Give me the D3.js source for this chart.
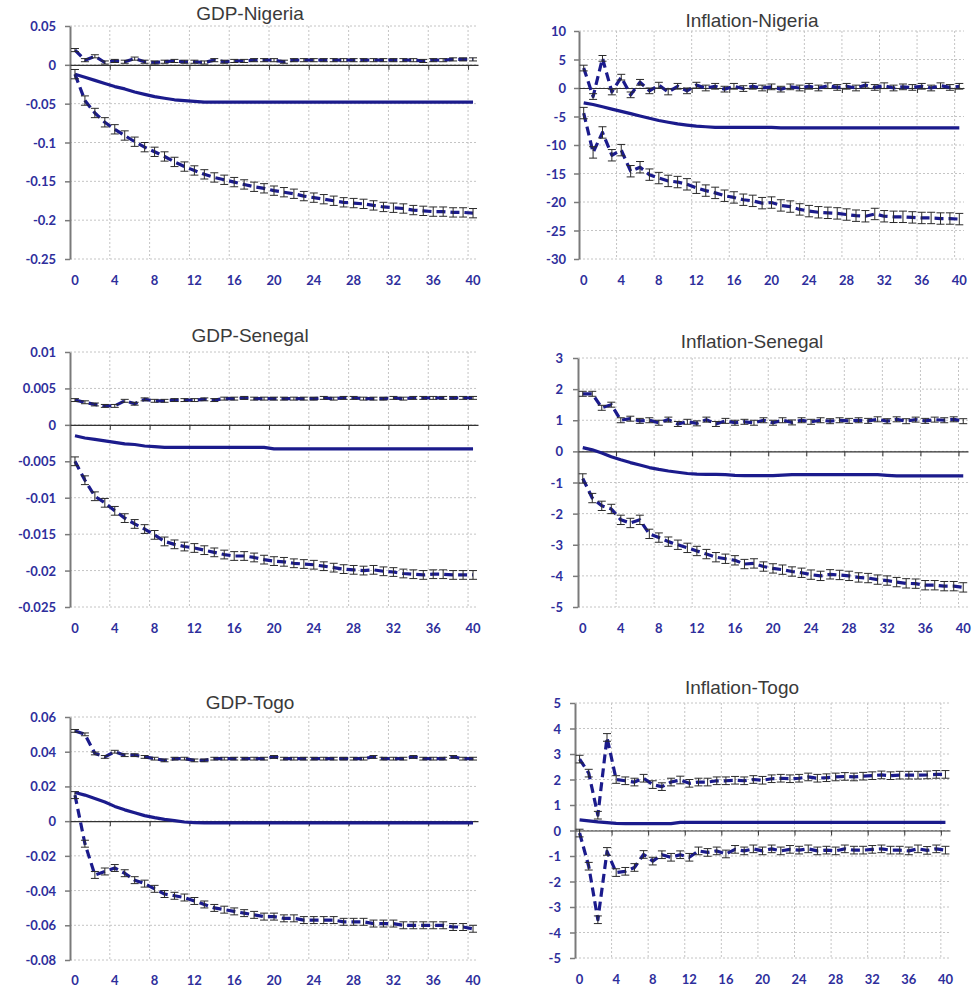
<!DOCTYPE html>
<html>
<head>
<meta charset="utf-8">
<script src="https://cdn.jsdelivr.net/npm/d3@7"></script>
<style>
  html, body { margin: 0; padding: 0; background: #fff; }
  svg { display: block; }
</style>
</head>
<body>
<svg id="chart" width="974" height="992"></svg>
<script>
// Impulse responses over 40 periods: upper band, point estimate, lower band
const horizons = d3.range(0, 41);
const xTickLabels = ["0", "4", "8", "12", "16", "20", "24", "28", "32", "36", "40"];

// GDP-Nigeria
const gdpNigeriaTicks = ["0.05", "0", "-0.05", "-0.1", "-0.15", "-0.2", "-0.25"];
const gdpNigeriaUpper = [0.019, 0.006, 0.011, 0.003, 0.005, 0.004, 0.008, 0.004, 0.003, 0.004,
  0.005, 0.004, 0.004, 0.003, 0.006, 0.004, 0.005, 0.005, 0.006, 0.006,
  0.006, 0.004, 0.006, 0.006, 0.006, 0.006, 0.006, 0.006, 0.006, 0.006,
  0.006, 0.006, 0.006, 0.006, 0.006, 0.005, 0.006, 0.006, 0.007, 0.007, 0.007];
const gdpNigeriaMid = [-0.012, -0.016, -0.020, -0.024, -0.028, -0.031, -0.035, -0.038, -0.041, -0.043,
  -0.045, -0.046, -0.047, -0.048, -0.048, -0.048, -0.048, -0.048, -0.048, -0.048,
  -0.048, -0.048, -0.048, -0.048, -0.048, -0.048, -0.048, -0.048, -0.048, -0.048,
  -0.048, -0.048, -0.048, -0.048, -0.048, -0.048, -0.048, -0.048, -0.048, -0.048, -0.048];
const gdpNigeriaLower = [-0.012, -0.046, -0.062, -0.074, -0.083, -0.091, -0.099, -0.106, -0.112, -0.118,
  -0.125, -0.131, -0.136, -0.141, -0.145, -0.148, -0.151, -0.154, -0.157, -0.159,
  -0.162, -0.164, -0.166, -0.169, -0.171, -0.173, -0.175, -0.177, -0.178, -0.179,
  -0.181, -0.183, -0.184, -0.185, -0.187, -0.188, -0.189, -0.189, -0.190, -0.190, -0.191];
const gdpNigeriaErr = [0.002, 0.006];

// Inflation-Nigeria
const infNigeriaTicks = ["10", "5", "0", "-5", "-10", "-15", "-20", "-25", "-30"];
const infNigeriaUpper = [3.5, -1.5, 5.2, -0.7, 1.9, -1.2, 1.0, -0.5, 0.5, -0.7,
  0.3, -0.5, 0.5, 0.0, 0.3, -0.2, 0.3, -0.1, 0.3, 0.0,
  0.2, -0.2, 0.2, 0.0, 0.3, 0.0, 0.4, 0.1, 0.3, 0.0,
  0.5, 0.1, 0.4, 0.0, 0.2, 0.1, 0.3, 0.0, 0.4, 0.1, 0.3];
const infNigeriaMid = [-2.6, -2.9, -3.3, -3.7, -4.1, -4.5, -4.9, -5.3, -5.7, -6.0,
  -6.3, -6.5, -6.7, -6.8, -6.9, -6.9, -6.9, -6.9, -6.9, -6.9,
  -6.9, -7.0, -7.0, -7.0, -7.0, -7.0, -7.0, -7.0, -7.0, -7.0,
  -7.0, -7.0, -7.0, -7.0, -7.0, -7.0, -7.0, -7.0, -7.0, -7.0, -7.0];
const infNigeriaLower = [-4.4, -11.3, -7.8, -11.8, -10.9, -14.6, -13.9, -15.2, -15.8, -16.3,
  -16.5, -16.9, -17.5, -18.0, -18.4, -18.9, -19.2, -19.6, -19.8, -20.2,
  -20.1, -20.6, -20.8, -21.3, -21.6, -21.8, -21.9, -22.0, -22.2, -22.4,
  -22.5, -22.1, -22.5, -22.6, -22.6, -22.7, -22.8, -22.8, -22.9, -22.9, -23.0];
const infNigeriaErr = [0.5, 1.0];

// GDP-Senegal
const gdpSenegalTicks = ["0.01", "0.005", "0", "-0.005", "-0.01", "-0.015", "-0.02", "-0.025"];
const gdpSenegalUpper = [0.0034, 0.0031, 0.0028, 0.0026, 0.0026, 0.0033, 0.0029, 0.0035, 0.0033, 0.0033,
  0.0034, 0.0034, 0.0034, 0.0035, 0.0034, 0.0036, 0.0036, 0.0037, 0.0036, 0.0036,
  0.0036, 0.0036, 0.0036, 0.0036, 0.0036, 0.0037, 0.0036, 0.0037, 0.0037, 0.0036,
  0.0036, 0.0036, 0.0037, 0.0036, 0.0037, 0.0037, 0.0037, 0.0037, 0.0037, 0.0037, 0.0037];
const gdpSenegalMid = [-0.0015, -0.0018, -0.0020, -0.0022, -0.0024, -0.0026, -0.0027, -0.0029, -0.0030, -0.0031,
  -0.0031, -0.0031, -0.0031, -0.0031, -0.0031, -0.0031, -0.0031, -0.0031, -0.0031, -0.0031,
  -0.0033, -0.0033, -0.0033, -0.0033, -0.0033, -0.0033, -0.0033, -0.0033, -0.0033, -0.0033,
  -0.0033, -0.0033, -0.0033, -0.0033, -0.0033, -0.0033, -0.0033, -0.0033, -0.0033, -0.0033, -0.0033];
const gdpSenegalLower = [-0.0050, -0.0076, -0.0098, -0.0107, -0.0118, -0.0128, -0.0136, -0.0143, -0.0151, -0.0160,
  -0.0164, -0.0167, -0.0169, -0.0172, -0.0175, -0.0178, -0.0180, -0.0180, -0.0182, -0.0185,
  -0.0187, -0.0188, -0.0190, -0.0191, -0.0192, -0.0194, -0.0196, -0.0198, -0.0199, -0.0200,
  -0.0199, -0.0201, -0.0202, -0.0204, -0.0205, -0.0206, -0.0205, -0.0205, -0.0206, -0.0206, -0.0206];
const gdpSenegalErr = [0.0002, 0.0006];

// Inflation-Senegal
const infSenegalTicks = ["3", "2", "1", "0", "-1", "-2", "-3", "-4", "-5"];
const infSenegalUpper = [1.85, 1.85, 1.4, 1.5, 1.0, 1.05, 0.98, 1.0, 0.92, 1.02,
  0.88, 0.95, 0.9, 1.02, 0.88, 0.98, 0.92, 0.95, 0.92, 1.0,
  0.92, 1.0, 0.93, 1.0, 0.95, 1.0, 0.97, 1.0, 0.98, 1.0,
  0.98, 1.03, 0.97, 1.03, 0.97, 1.02, 0.98, 1.02, 1.0, 1.03, 0.97];
const infSenegalMid = [0.12, 0.05, -0.05, -0.17, -0.27, -0.36, -0.44, -0.52, -0.58, -0.63,
  -0.67, -0.71, -0.73, -0.74, -0.74, -0.75, -0.77, -0.78, -0.78, -0.78,
  -0.78, -0.76, -0.75, -0.75, -0.75, -0.75, -0.75, -0.75, -0.75, -0.75,
  -0.75, -0.75, -0.77, -0.79, -0.79, -0.79, -0.79, -0.79, -0.79, -0.79, -0.79];
const infSenegalLower = [-0.87, -1.5, -1.75, -1.85, -2.2, -2.3, -2.2, -2.65, -2.77, -2.9,
  -3.0, -3.1, -3.2, -3.3, -3.4, -3.45, -3.5, -3.62, -3.6, -3.7,
  -3.76, -3.8, -3.86, -3.9, -3.96, -4.0, -3.95, -3.97, -4.0, -4.05,
  -4.07, -4.12, -4.15, -4.2, -4.24, -4.25, -4.3, -4.3, -4.33, -4.33, -4.37];
const infSenegalErr = [0.08, 0.15];

// GDP-Togo
const gdpTogoTicks = ["0.06", "0.04", "0.02", "0", "-0.02", "-0.04", "-0.06", "-0.08"];
const gdpTogoUpper = [0.052, 0.050, 0.039, 0.037, 0.040, 0.038, 0.038, 0.037, 0.036, 0.035,
  0.036, 0.036, 0.035, 0.035, 0.036, 0.036, 0.036, 0.036, 0.036, 0.036,
  0.037, 0.036, 0.036, 0.036, 0.036, 0.036, 0.036, 0.036, 0.036, 0.036,
  0.037, 0.036, 0.036, 0.036, 0.037, 0.036, 0.036, 0.036, 0.037, 0.036, 0.036];
const gdpTogoMid = [0.0165, 0.0150, 0.0130, 0.0110, 0.0085, 0.0065, 0.0048, 0.0032, 0.0020, 0.0010,
  0.0003, -0.0005, -0.0008, -0.0010, -0.0010, -0.0010, -0.0010, -0.0010, -0.0010, -0.0010,
  -0.0010, -0.0010, -0.0010, -0.0010, -0.0010, -0.0010, -0.0010, -0.0010, -0.0010, -0.0010,
  -0.0010, -0.0010, -0.0010, -0.0010, -0.0010, -0.0010, -0.0010, -0.0010, -0.0010, -0.0010, -0.0010];
const gdpTogoLower = [0.015, -0.013, -0.031, -0.029, -0.027, -0.030, -0.034, -0.036, -0.039, -0.042,
  -0.043, -0.044, -0.046, -0.048, -0.050, -0.051, -0.052, -0.053, -0.054, -0.055,
  -0.055, -0.056, -0.056, -0.057, -0.057, -0.057, -0.057, -0.058, -0.058, -0.058,
  -0.059, -0.059, -0.059, -0.060, -0.060, -0.060, -0.060, -0.060, -0.061, -0.061, -0.062];
const gdpTogoErr = [0.0008, 0.002];

// Inflation-Togo
const infTogoTicks = ["5", "4", "3", "2", "1", "0", "-1", "-2", "-3", "-4", "-5"];
const infTogoUpper = [2.8, 2.25, 0.6, 3.65, 2.0, 1.95, 1.9, 2.05, 1.8, 1.72,
  1.9, 1.98, 1.85, 1.9, 1.9, 1.95, 1.95, 1.97, 1.95, 2.0,
  1.97, 2.03, 2.05, 2.03, 2.05, 2.1, 2.05, 2.07, 2.1, 2.12,
  2.1, 2.13, 2.15, 2.18, 2.15, 2.17, 2.17, 2.17, 2.18, 2.2, 2.2];
const infTogoMid = [0.42, 0.38, 0.34, 0.31, 0.28, 0.27, 0.27, 0.27, 0.27, 0.27,
  0.27, 0.32, 0.32, 0.32, 0.32, 0.32, 0.32, 0.32, 0.32, 0.32,
  0.32, 0.32, 0.32, 0.32, 0.32, 0.32, 0.32, 0.32, 0.32, 0.32,
  0.32, 0.32, 0.32, 0.32, 0.32, 0.32, 0.32, 0.32, 0.32, 0.32, 0.32];
const infTogoLower = [-0.1, -1.4, -3.5, -0.82, -1.65, -1.6, -1.45, -0.94, -1.2, -0.95,
  -1.05, -0.95, -1.05, -0.8, -0.86, -0.8, -0.92, -0.74, -0.8, -0.72,
  -0.8, -0.72, -0.8, -0.74, -0.77, -0.72, -0.8, -0.77, -0.8, -0.72,
  -0.77, -0.77, -0.74, -0.72, -0.77, -0.77, -0.8, -0.72, -0.78, -0.72, -0.77];
const infTogoErr = [0.15, 0.15];

const panels = [
  { title: "GDP-Nigeria", ticks: gdpNigeriaTicks, upper: gdpNigeriaUpper, mid: gdpNigeriaMid, lower: gdpNigeriaLower, err: gdpNigeriaErr },
  { title: "Inflation-Nigeria", ticks: infNigeriaTicks, upper: infNigeriaUpper, mid: infNigeriaMid, lower: infNigeriaLower, err: infNigeriaErr },
  { title: "GDP-Senegal", ticks: gdpSenegalTicks, upper: gdpSenegalUpper, mid: gdpSenegalMid, lower: gdpSenegalLower, err: gdpSenegalErr },
  { title: "Inflation-Senegal", ticks: infSenegalTicks, upper: infSenegalUpper, mid: infSenegalMid, lower: infSenegalLower, err: infSenegalErr },
  { title: "GDP-Togo", ticks: gdpTogoTicks, upper: gdpTogoUpper, mid: gdpTogoMid, lower: gdpTogoLower, err: gdpTogoErr },
  { title: "Inflation-Togo", ticks: infTogoTicks, upper: infTogoUpper, mid: infTogoMid, lower: infTogoLower, err: infTogoErr }
];

// Frame of each panel on the page
const frames = [
  { left: 70,  right: 478, top: 26,  bottom: 259, titleX: 250, titleY: 20,  xLabelY: 280, yLabelX: 56 },
  { left: 579, right: 964, top: 31,  bottom: 259, titleX: 752, titleY: 27,  xLabelY: 280, yLabelX: 566 },
  { left: 70,  right: 478, top: 352, bottom: 607, titleX: 250, titleY: 342, xLabelY: 628, yLabelX: 56 },
  { left: 578, right: 968, top: 358, bottom: 607, titleX: 752, titleY: 348, xLabelY: 628, yLabelX: 563 },
  { left: 70,  right: 478, top: 717, bottom: 960, titleX: 250, titleY: 709, xLabelY: 980, yLabelX: 56 },
  { left: 575, right: 950, top: 703, bottom: 958, titleX: 742, titleY: 694, xLabelY: 979, yLabelX: 561 }
];

const LINE = "#1b1b8c";
const LABEL = "#2e2e9c";
const GRID = "#c4c4c4";
const ERR = "#2a2a2a";

const svg = d3.select("#chart");

panels.forEach((p, k) => {
  const f = frames[k];
  const tickVals = p.ticks.map(Number);
  const x = d3.scaleLinear().domain([0, horizons.length]).range([f.left, f.right]);
  const y = d3.scaleLinear().domain(d3.extent(tickVals)).range([f.bottom, f.top]);
  const g = svg.append("g");
  const cx = i => x(i + 0.5);

  // horizontal gridlines
  g.selectAll(".hgrid").data(tickVals).join("line")
    .attr("x1", f.left).attr("x2", f.right)
    .attr("y1", d => y(d)).attr("y2", d => y(d))
    .attr("stroke", GRID).attr("stroke-width", 1).attr("stroke-dasharray", "2,2");

  // vertical gridlines at every 4th period boundary
  const vCuts = xTickLabels.map(Number).filter(v => v > 0);
  g.selectAll(".vgrid").data(vCuts).join("line")
    .attr("x1", d => x(d)).attr("x2", d => x(d))
    .attr("y1", f.top).attr("y2", f.bottom)
    .attr("stroke", GRID).attr("stroke-width", 1).attr("stroke-dasharray", "2,2");

  // left value axis
  const yAxis = d3.axisLeft(y).tickValues(tickVals).tickSize(5).tickSizeOuter(0).tickFormat("");
  const ya = g.append("g").attr("transform", `translate(${f.left},0)`).call(yAxis);
  ya.select(".domain").attr("stroke", "#7a7a7a").attr("stroke-width", 2);
  ya.selectAll(".tick line").attr("stroke", "#7a7a7a").attr("stroke-width", 1.5);

  g.selectAll(".ylab").data(p.ticks).join("text")
    .attr("x", f.yLabelX).attr("y", d => y(+d))
    .attr("text-anchor", "end").attr("dominant-baseline", "central")
    .attr("font-family", "Lato, 'DejaVu Sans', sans-serif").attr("font-weight", "bold")
    .attr("font-size", 13).attr("fill", LABEL)
    .text(d => d);

  // zero line with period ticks
  const xAxis = d3.axisBottom(x).tickValues(vCuts).tickSize(5).tickSizeOuter(0).tickFormat("");
  const xa = g.append("g").attr("transform", `translate(0,${y(0)})`).call(xAxis);
  xa.select(".domain").attr("stroke", "#333").attr("stroke-width", 1.2);
  xa.selectAll(".tick line").attr("stroke", "#333").attr("stroke-width", 1);

  // period labels along the bottom
  g.selectAll(".xlab").data(xTickLabels).join("text")
    .attr("x", d => cx(+d)).attr("y", f.xLabelY)
    .attr("text-anchor", "middle").attr("dominant-baseline", "central")
    .attr("font-family", "Lato, 'DejaVu Sans', sans-serif").attr("font-weight", "bold")
    .attr("font-size", 13).attr("fill", LABEL)
    .text(d => d);

  // title
  g.append("text")
    .attr("x", f.titleX).attr("y", f.titleY)
    .attr("text-anchor", "middle")
    .attr("font-family", "'Liberation Sans', Arial, sans-serif")
    .attr("font-size", 19).attr("fill", "#3a3a3a")
    .text(p.title);

  const line = d3.line().x((d, i) => cx(i)).y(d => y(d));

  g.append("path").datum(p.mid).attr("d", line)
    .attr("fill", "none").attr("stroke", LINE).attr("stroke-width", 3.2)
    .attr("stroke-linejoin", "round");

  [p.upper, p.lower].forEach((series, s) => {
    g.append("path").datum(series).attr("d", line)
      .attr("fill", "none").attr("stroke", LINE).attr("stroke-width", 3.2)
      .attr("stroke-dasharray", "9,5").attr("stroke-linejoin", "round");

    const e = p.err[s];
    const bars = g.append("g");
    series.forEach((v, i) => {
      const xc = cx(i), y1 = y(v + e), y2 = y(v - e);
      bars.append("line").attr("x1", xc).attr("x2", xc).attr("y1", y1).attr("y2", y2)
        .attr("stroke", ERR).attr("stroke-width", 1);
      bars.append("line").attr("x1", xc - 4).attr("x2", xc + 4).attr("y1", y1).attr("y2", y1)
        .attr("stroke", ERR).attr("stroke-width", 1);
      bars.append("line").attr("x1", xc - 4).attr("x2", xc + 4).attr("y1", y2).attr("y2", y2)
        .attr("stroke", ERR).attr("stroke-width", 1);
    });
  });
});
</script>
</body>
</html>
